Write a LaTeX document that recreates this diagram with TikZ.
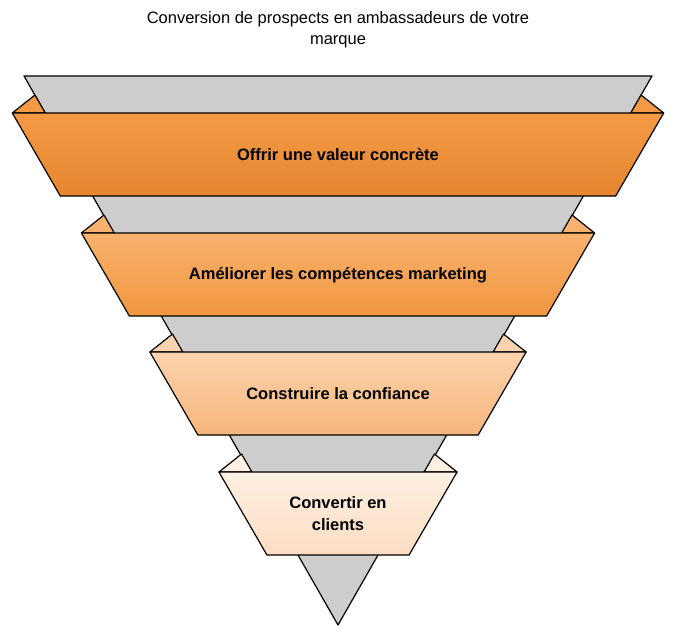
\documentclass[tikz,border=0pt]{standalone}
\usepackage{fontspec}
\setmainfont{Liberation Sans}
\usetikzlibrary{positioning}
\definecolor{orangeAtop}{HTML}{F49A45}
\definecolor{orangeAbot}{HTML}{E6862E}
\definecolor{orangeBtop}{HTML}{F8B26E}
\definecolor{orangeBbot}{HTML}{F0963E}
\definecolor{orangeCtop}{HTML}{FBD3AE}
\definecolor{orangeCbot}{HTML}{F7B57A}
\definecolor{orangeDtop}{HTML}{FEF0E2}
\definecolor{orangeDbot}{HTML}{FBDDC2}
\definecolor{funnelgray}{HTML}{CDCDCD}
\tikzset{
  funnel/.style={draw=black, line width=1.2pt, line join=round},
  bandtext/.style={font=\fontsize{16.5}{22}\selectfont\bfseries, align=center, text=black},
  titletext/.style={font=\fontsize{16.5}{21}\selectfont, align=center}
}
\begin{document}
\begin{tikzpicture}[x=1pt, y=-1pt]
    \useasboundingbox (0,0) rectangle (689,633);
    % gray funnel behind the bands
    \draw[funnel, fill=funnelgray] (24,76) -- (652,76) -- (338,625) -- cycle;

    \node (title) [titletext] at (338,30) {Conversion de prospects en ambassadeurs de votre\\marque};

    % bands with their small ears
    \foreach \name/\top/\ctop/\cbot/\txt in {
        bandA/113/orangeAtop/orangeAbot/{Offrir une valeur concrète},
        bandB/233/orangeBtop/orangeBbot/{Améliorer les compétences marketing},
        bandC/352/orangeCtop/orangeCbot/{Construire la confiance},
        bandD/472/orangeDtop/orangeDbot/{Convertir en\\clients}} {
        \pgfmathsetmacro{\gl}{24+0.5756*(\top-76)}
        \pgfmathsetmacro{\ga}{24+0.5756*(\top-94)}
        \pgfmathsetmacro{\bl}{\gl-33}
        \pgfmathsetmacro{\bb}{\bl+48}
        \draw[funnel, fill=\ctop] (\bl,\top) -- (\ga,\top-18) -- (\gl,\top) -- cycle;
        \draw[funnel, fill=\ctop] (676-\bl,\top) -- (676-\ga,\top-18) -- (676-\gl,\top) -- cycle;
        \draw[funnel, top color=\ctop, bottom color=\cbot]
            (\bl,\top) -- (676-\bl,\top) -- (676-\bb,\top+83) -- (\bb,\top+83) -- cycle;
        \node (\name) [bandtext] at (338,\top+42) {\txt};
    }
\end{tikzpicture}
\end{document}
